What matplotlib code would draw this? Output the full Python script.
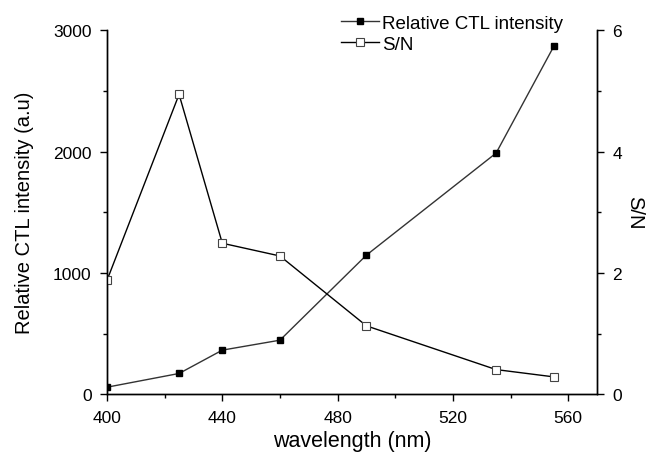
import matplotlib
matplotlib.use('Agg')
import matplotlib.pyplot as plt
from matplotlib.ticker import MultipleLocator
import numpy as np

plt.rcParams['font.family'] = ['Liberation Sans', 'DejaVu Sans']

wavelength = [400, 425, 440, 460, 490, 535, 555]
ctl_intensity = [60, 173, 365, 447, 1147, 1987, 2865]
sn_ratio = [1.88, 4.94, 2.49, 2.28, 1.13, 0.41, 0.29]

fig = plt.figure(figsize=(6.47, 4.56), dpi=100)
ax = fig.add_axes([0.1654, 0.1327, 0.7573, 0.7993])
ax2 = ax.twinx()

l1, = ax.plot(wavelength, ctl_intensity, color='#333333', lw=1.0, marker='s',
              ms=5, mfc='black', mec='black', label='Relative CTL intensity')
l2, = ax2.plot(wavelength, sn_ratio, color='black', lw=1.0, marker='s',
               ms=5.5, mfc='white', mec='#444444', mew=0.8, label='S/N')

ax.set_xlim(400, 570)
ax.set_ylim(0, 3000)
ax2.set_ylim(0, 6)

ax.xaxis.set_major_locator(MultipleLocator(40))
ax.xaxis.set_minor_locator(MultipleLocator(20))
ax.yaxis.set_major_locator(MultipleLocator(1000))
ax.yaxis.set_minor_locator(MultipleLocator(500))
ax2.yaxis.set_major_locator(MultipleLocator(2))
ax2.yaxis.set_minor_locator(MultipleLocator(1))

for a in (ax, ax2):
    a.spines['top'].set_visible(False)
    for s in a.spines.values():
        s.set_linewidth(1.0)
    a.tick_params(which='major', direction='out', length=5, width=1.0,
                  labelsize=12.5, pad=6)
    a.tick_params(which='minor', direction='out', length=3, width=1.0)

ax.set_xlabel('wavelength (nm)', fontsize=15.5, labelpad=4)
ax.set_ylabel('Relative CTL intensity (a.u)', fontsize=14.5, labelpad=14)
ax2.set_ylabel('S/N', fontsize=14.5, rotation=-90, labelpad=16)

fig.legend(handles=[l1, l2], loc='upper left', bbox_to_anchor=(0.522, 0.974),
           frameon=False, fontsize=13.5, handlelength=2.0, handletextpad=0.15,
           labelspacing=0.2, borderaxespad=0, borderpad=0.2)

fig.savefig('out.png', dpi=100)
